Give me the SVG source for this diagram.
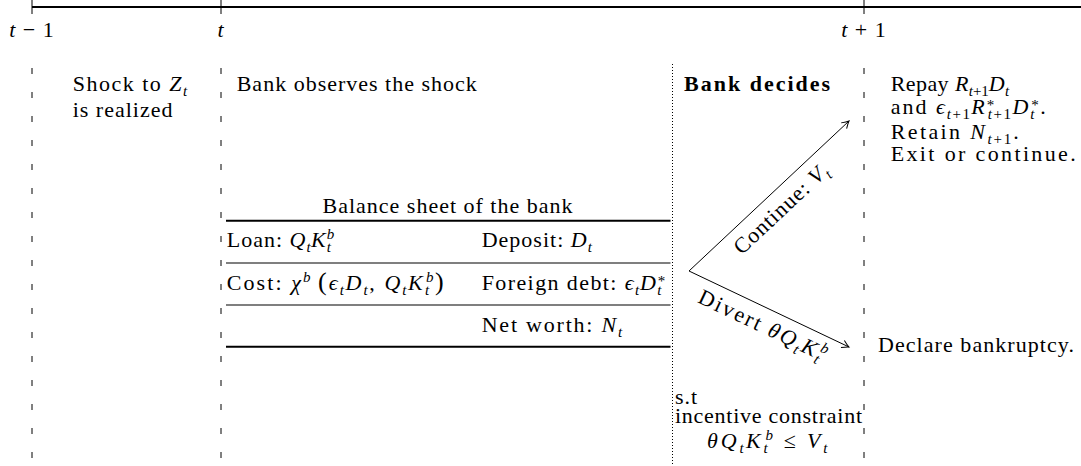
<svg xmlns="http://www.w3.org/2000/svg" width="1081" height="466" viewBox="0 0 1081 466">
<style>
text { font-family: "Liberation Serif", "Times New Roman", serif; font-size: 22px; letter-spacing: 1px; fill: #000; }
.i { font-style: italic; }
.s { font-size: 15px; letter-spacing: 0.5px; }
.p { font-size: 26px; }
.b { font-weight: bold; letter-spacing: 2px; }
.dash { stroke: #000; stroke-width: 1; stroke-dasharray: 6 18; fill: none; }
.dot { stroke: #000; stroke-width: 1; stroke-dasharray: 1 2; fill: none; }
.thick { stroke: #000; stroke-width: 2; }
.thin { stroke: #000; stroke-width: 1.2; }
.arrow { stroke: #000; stroke-width: 1; fill: none; marker-end: url(#ah); }
</style>
<defs>
<marker id="ah" viewBox="-10 -6 12 12" refX="0" refY="0" markerWidth="12" markerHeight="12" markerUnits="userSpaceOnUse" orient="auto">
<path d="M-7,-4 Q-2.5,-1 0,0 Q-2.5,1 -7,4" fill="none" stroke="#000" stroke-width="1"/>
</marker>
</defs>
<rect width="1081" height="466" fill="#fff"/>

<g id="timeline">
<line x1="32" y1="7" x2="1081" y2="7" stroke="#000" stroke-width="2"/>
<line x1="32" y1="0" x2="32" y2="14" stroke="#000" stroke-width="1"/>
<line x1="221" y1="0" x2="221" y2="14" stroke="#000" stroke-width="1"/>
<line x1="864" y1="0" x2="864" y2="14" stroke="#000" stroke-width="1"/>
<text x="32" y="37" text-anchor="middle"><tspan class="i">t</tspan> − 1</text>
<text x="221" y="37" text-anchor="middle" class="i">t</text>
<text x="864" y="37" text-anchor="middle"><tspan class="i">t</tspan> + 1</text>
</g>

<g id="separators">
<line class="dash" x1="32" y1="68" x2="32" y2="466"/>
<line class="dash" x1="221" y1="68" x2="221" y2="466"/>
<line class="dash" x1="864" y1="68" x2="864" y2="466"/>
<line class="dot" x1="672.5" y1="64" x2="672.5" y2="466"/>
</g>

<g id="shock">
<text x="72.7" y="90.7" textLength="115">Shock to <tspan class="i">Z</tspan><tspan class="i s" dy="5">t</tspan></text>
<text x="72.7" y="116.7">is realized</text>
</g>

<g id="observe">
<text x="236.7" y="90.7">Bank observes the shock</text>
</g>

<g id="balance-sheet">
<text x="448" y="213" text-anchor="middle">Balance sheet of the bank</text>
<line class="thick" x1="226" y1="220.7" x2="670.5" y2="220.7"/>
<line class="thin" x1="226" y1="263" x2="670.5" y2="263"/>
<line class="thin" x1="226" y1="305" x2="670.5" y2="305"/>
<line class="thick" x1="226" y1="346.7" x2="670.5" y2="346.7"/>
<text x="226.7" y="247">Loan: <tspan class="i">Q</tspan><tspan class="i s" dy="5">t</tspan><tspan class="i" dy="-5">K</tspan><tspan class="i s" dy="5">t</tspan><tspan class="i s" dx="-4.7" dy="-13">b</tspan></text>
<text x="226.7" y="290" textLength="218">Cost: <tspan class="i">χ</tspan><tspan class="i s" dy="-8">b</tspan><tspan class="p" dx="6" dy="8">(</tspan><tspan class="i">ϵ</tspan><tspan class="i s" dy="5">t</tspan><tspan class="i" dy="-5">D</tspan><tspan class="i s" dy="5">t</tspan><tspan dy="-5">, </tspan><tspan class="i">Q</tspan><tspan class="i s" dy="5">t</tspan><tspan class="i" dy="-5">K</tspan><tspan class="i s" dy="5">t</tspan><tspan class="i s" dx="-4.7" dy="-13">b</tspan><tspan class="p" dy="8">)</tspan></text>
<text x="481.7" y="247">Deposit: <tspan class="i">D</tspan><tspan class="i s" dy="5">t</tspan></text>
<text x="481.7" y="290" textLength="184">Foreign debt: <tspan class="i">ϵ</tspan><tspan class="i s" dy="5">t</tspan><tspan class="i" dy="-5">D</tspan><tspan class="i s" dy="5">t</tspan><tspan class="s" dx="-4.7" dy="-9">*</tspan></text>
<text x="481.7" y="332" textLength="141">Net worth: <tspan class="i">N</tspan><tspan class="i s" dy="5">t</tspan></text>
</g>

<g id="decision">
<text x="684" y="90.7" class="b">Bank decides</text>
<text x="675" y="404">s.t</text>
<text x="675" y="423.3" textLength="188">incentive constraint</text>
<text x="707" y="448" textLength="121"><tspan class="i">θQ</tspan><tspan class="i s" dy="5">t</tspan><tspan class="i" dy="-5">K</tspan><tspan class="i s" dy="5">t</tspan><tspan class="i s" dx="-4.7" dy="-13">b</tspan><tspan dy="8"> ≤ </tspan><tspan class="i">V</tspan><tspan class="i s" dy="5">t</tspan></text>
</g>

<g id="connectors">
<line class="arrow" x1="689" y1="271" x2="849" y2="121"/>
<line class="arrow" x1="689" y1="271" x2="849" y2="347"/>
<text transform="translate(786,214) rotate(-43.15)" text-anchor="middle">Continue: <tspan class="i">V</tspan><tspan class="i s" dy="5">t</tspan></text>
<text transform="translate(760,332) rotate(25.4)" text-anchor="middle" textLength="140">Divert <tspan class="i">θQ</tspan><tspan class="i s" dy="5">t</tspan><tspan class="i" dy="-5">K</tspan><tspan class="i s" dy="5">t</tspan><tspan class="i s" dx="-4.7" dy="-13">b</tspan></text>
</g>

<g id="continue-outcome">
<text x="890.7" y="91" textLength="119">Repay <tspan class="i">R</tspan><tspan class="s" dy="5"><tspan class="i">t</tspan>+1</tspan><tspan class="i" dy="-5">D</tspan><tspan class="i s" dy="5">t</tspan></text>
<text x="890.7" y="114" textLength="156">and <tspan class="i">ϵ</tspan><tspan class="s" dy="5"><tspan class="i">t</tspan>+1</tspan><tspan class="i" dy="-5">R</tspan><tspan class="s" dy="-4">*</tspan><tspan class="s" dx="-8" dy="9"><tspan class="i">t</tspan>+1</tspan><tspan class="i" dy="-5">D</tspan><tspan class="i s" dy="5">t</tspan><tspan class="s" dx="-4.7" dy="-9">*</tspan><tspan dy="4">.</tspan></text>
<text x="890.7" y="139" textLength="129">Retain <tspan class="i">N</tspan><tspan class="s" dy="5"><tspan class="i">t</tspan>+1</tspan><tspan dy="-5">.</tspan></text>
<text x="890.7" y="161" textLength="186">Exit or continue.</text>
</g>

<g id="divert-outcome">
<text x="878" y="352" textLength="197">Declare bankruptcy.</text>
</g>
</svg>
